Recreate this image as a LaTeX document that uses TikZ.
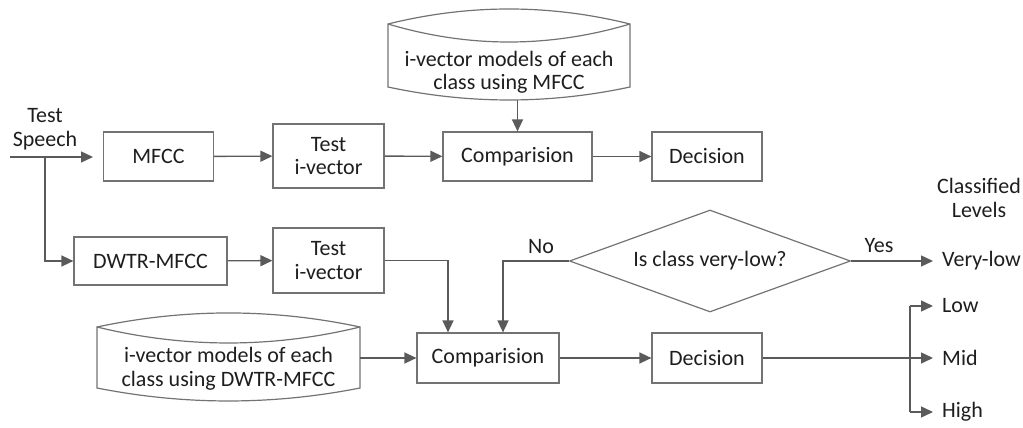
\documentclass[tikz,border=0pt]{standalone}
\usepackage{fontspec}
\setmainfont{Carlito}
\usetikzlibrary{arrows.meta,shapes.geometric,calc}
\definecolor{lc}{RGB}{90,90,90}
\definecolor{bc}{RGB}{115,115,115}
\definecolor{tc}{RGB}{30,30,30}
\begin{document}
\begin{tikzpicture}[x=1pt,y=-1pt,
 font=\fontsize{22}{23.5}\selectfont,
 box/.style={draw=bc, line width=1.2pt, text=tc, inner sep=0pt, align=center},
 conn/.style={draw=lc, line width=1.4pt, -{Triangle[length=12pt,width=11pt]}},
 plain/.style={draw=lc, line width=1.4pt},
 dbline/.style={draw=bc, line width=1.2pt},
 lbl/.style={text=tc, inner sep=0pt, align=center},
]
\useasboundingbox (0,0) rectangle (1023,428);

% top row
\node[lbl] (ts) at (45,129) {Test\\Speech};
\coordinate (in0) at (10,157);
\coordinate (in1) at (93,157);
\coordinate (br) at (45,157);
\node[box, minimum width=110, minimum height=49] (mfcc) at (158.5,156.5) {MFCC};
\node[box, minimum width=111, minimum height=64] (tiv1) at (328.5,156) {Test\\i-vector};
\node[box, minimum width=149, minimum height=49] (comp1) at (517.5,156.5) {Comparision};
\node[box, minimum width=110, minimum height=49] (dec1) at (707,156.5) {Decision};

% top database
\draw[dbline] (388,24) .. controls (468.7,4) and (549.3,4) .. (630,24) -- (630,87)
  .. controls (549.3,104.3) and (468.7,104.3) .. (388,87) -- cycle;
\draw[dbline] (388,24) .. controls (468.7,48) and (549.3,48) .. (630,24);
\node[lbl] (db1) at (509,72.5) {i-vector models of each\\class using MFCC};
\coordinate (db1b) at (517.5,100);

% second row
\node[box, minimum width=153, minimum height=48] (dwtr) at (150.5,261) {DWTR-MFCC};
\node[box, minimum width=111, minimum height=65] (tiv2) at (328.5,260.5) {Test\\i-vector};
\node[draw=bc, line width=1.2pt, text=tc, diamond, aspect=2.75, inner sep=0pt,
  minimum width=281, minimum height=102] (dia) at (710,261) {Is class very-low?};
\node[lbl] (no) at (541,247) {No};
\node[lbl] (yes) at (879,246) {Yes};
\node[lbl, anchor=west] (vlow) at (942,261) {Very-low};
\node[lbl] (cls) at (979,198) {Classified\\Levels};

% bottom row
\draw[dbline] (97,327) .. controls (184.7,308.3) and (272.3,308.3) .. (360,327) -- (360,388)
  .. controls (272.3,405.3) and (184.7,405.3) .. (97,388) -- cycle;
\draw[dbline] (97,327) .. controls (184.7,348.3) and (272.3,348.3) .. (360,327);
\node[lbl] (db2) at (228.5,368.5) {i-vector models of each\\class using DWTR-MFCC};
\coordinate (db2e) at (360,358);
\node[box, minimum width=142, minimum height=50] (comp2) at (488,358) {Comparision};
\node[box, minimum width=110, minimum height=50] (dec2) at (707,358) {Decision};
\coordinate (j1) at (448,260.5);
\coordinate (j2) at (503,261);
\coordinate (forkt) at (910,306);
\coordinate (forkb) at (910,412);
\coordinate (vtip) at (933,261);
\coordinate (ltip) at (933,306);
\coordinate (mtip) at (933,358);
\coordinate (htip) at (933,412);
\node[lbl, anchor=west] (low) at (942,306) {Low};
\node[lbl, anchor=west] (mid) at (942,358) {Mid};
\node[lbl, anchor=west] (high) at (942,412) {High};

% connectors
\draw[plain] (in0) -- (br);
\draw[conn] (br) -- (in1);
\draw[conn] (br) |- (dwtr.west);
\draw[conn] (mfcc) -- (tiv1);
\draw[conn] (tiv1) -- (comp1);
\draw[conn] (comp1) -- (dec1);
\draw[conn] (db1b) -- (comp1.north);
\draw[conn] (dwtr) -- (tiv2);
\draw[conn] (tiv2.east |- j1) -- (j1) -- (j1 |- comp2.north);
\draw[conn] (dia.west) -- (j2) -- (j2 |- comp2.north);
\draw[conn] (dia.east) -- (vtip);
\draw[conn] (db2e) -- (comp2.west);
\draw[conn] (comp2) -- (dec2);
\draw[conn] (dec2) -- (mtip);
\draw[plain] (forkt) -- (forkb);
\draw[conn] (forkt) -- (ltip);
\draw[conn] (forkb) -- (htip);
\end{tikzpicture}
\end{document}
